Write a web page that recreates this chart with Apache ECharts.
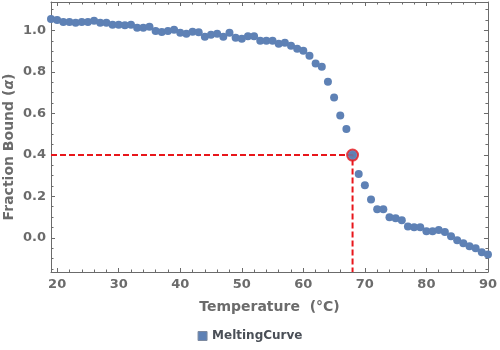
<!DOCTYPE html>
<html>
<head>
<meta charset="utf-8">
<script src="https://cdn.jsdelivr.net/npm/echarts@6/dist/echarts.min.js"></script>
<style>
  html, body { margin: 0; padding: 0; background: #fff; }
  #chart { width: 500px; height: 350px; }
</style>
</head>
<body>
<div id="chart"></div>
<script>
// Melting curve: fraction bound vs. temperature
const temperature = [19, 20, 21, 22, 23, 24, 25, 26, 27, 28, 29, 30, 31, 32, 33, 34, 35, 36,
  37, 38, 39, 40, 41, 42, 43, 44, 45, 46, 47, 48, 49, 50, 51, 52, 53, 54, 55, 56, 57, 58,
  59, 60, 61, 62, 63, 64, 65, 66, 67, 68, 69, 70, 71, 72, 73, 74, 75, 76, 77, 78, 79, 80,
  81, 82, 83, 84, 85, 86, 87, 88, 89, 90];
const fractionBound = [1.055, 1.050, 1.040, 1.040, 1.037, 1.040, 1.040, 1.047, 1.037, 1.037,
  1.027, 1.027, 1.025, 1.027, 1.013, 1.013, 1.018, 0.997, 0.992, 0.997, 1.003, 0.989, 0.984,
  0.994, 0.991, 0.970, 0.979, 0.984, 0.970, 0.989, 0.965, 0.960, 0.972, 0.972, 0.950, 0.950,
  0.950, 0.936, 0.941, 0.926, 0.912, 0.902, 0.878, 0.840, 0.825, 0.753, 0.676, 0.590, 0.524,
  0.399, 0.307, 0.253, 0.185, 0.137, 0.137, 0.099, 0.094, 0.084, 0.055, 0.051, 0.051, 0.031,
  0.031, 0.038, 0.028, 0.007, -0.012, -0.026, -0.041, -0.051, -0.070, -0.081];

// Melting temperature and the fraction bound there
const meltTemp = 68;
const meltFraction = 0.399;

// Axis ranges and ticks
const xRange = [19, 90];
const yRange = [-0.165, 1.137];
const xTicks = [20, 30, 40, 50, 60, 70, 80, 90];
const xMinorTicks = [20, 22, 24, 26, 28, 30, 32, 34, 36, 38, 40, 42, 44, 46, 48, 50, 52, 54,
  56, 58, 60, 62, 64, 66, 68, 70, 72, 74, 76, 78, 80, 82, 84, 86, 88, 90];
const yTicks = [0, 0.2, 0.4, 0.6, 0.8, 1.0];
const yMinorTicks = [-0.15, -0.1, -0.05, 0, 0.05, 0.1, 0.15, 0.2, 0.25, 0.3, 0.35, 0.4, 0.45,
  0.5, 0.55, 0.6, 0.65, 0.7, 0.75, 0.8, 0.85, 0.9, 0.95, 1.0, 1.05, 1.1];

const points = temperature.map((t, i) => [t, fractionBound[i]]);

const frameColor = '#6b6b6b';
const textColor = '#6b6b6b';
const fontFamily = '"DejaVu Sans", sans-serif';
const pointColor = '#5e81b5';
const guideColor = '#e8161b';

function frameAxis(position, range, major, minor, withLabels, extra) {
  const isX = position === 'bottom' || position === 'top';
  const axes = [];
  axes.push(Object.assign({
    type: 'value',
    position: position,
    min: range[0],
    max: range[1],
    axisLine: { show: true, onZero: false, lineStyle: { color: frameColor, width: 1 } },
    axisTick: { show: true, inside: true, length: 4, customValues: major,
      lineStyle: { color: frameColor, width: 1 } },
    axisLabel: withLabels ? {
      show: true, customValues: major, margin: isX ? 6 : 5,
      color: textColor, fontFamily: fontFamily, fontWeight: 'bold', fontSize: 13,
      formatter: v => isX ? String(v) : Number(v).toFixed(1)
    } : { show: false },
    splitLine: { show: false }
  }, extra || {}));
  axes.push({
    type: 'value',
    position: position,
    min: range[0],
    max: range[1],
    axisLine: { show: false, onZero: false },
    axisTick: { show: true, inside: true, length: 2.5, customValues: minor,
      lineStyle: { color: frameColor, width: 1 } },
    axisLabel: { show: false },
    splitLine: { show: false }
  });
  return axes;
}

const chart = echarts.init(document.getElementById('chart'), null, { renderer: 'canvas' });

const xAxes = [].concat(
  frameAxis('bottom', xRange, xTicks, xMinorTicks, true, {
    name: 'Temperature  (°C)',
    nameLocation: 'middle',
    nameGap: 28,
    nameTextStyle: { color: textColor, fontFamily: fontFamily, fontWeight: 'bold', fontSize: 14 }
  }),
  frameAxis('top', xRange, xTicks, xMinorTicks, false)
);
const yAxes = [].concat(
  frameAxis('left', yRange, yTicks, yMinorTicks, true),
  frameAxis('right', yRange, yTicks, yMinorTicks, false)
);

chart.setOption({
  animation: false,
  backgroundColor: '#ffffff',
  grid: { left: 51, right: 11, top: 2, bottom: 78, containLabel: false },
  xAxis: xAxes,
  yAxis: yAxes,
  legend: {
    data: [{ name: 'MeltingCurve', icon: 'rect' }],
    bottom: 3,
    left: 'center',
    itemWidth: 9,
    itemHeight: 9,
    itemGap: 6,
    itemStyle: { borderColor: '#7d8aa0', borderWidth: 1 },
    textStyle: { color: '#4a4f57', fontFamily: fontFamily, fontWeight: 'bold', fontSize: 12 }
  },
  graphic: [{
    type: 'text',
    x: 9,
    y: 147,
    rotation: Math.PI / 2,
    style: {
      text: '{n|Fraction Bound (}{a|α}{n|)}',
      align: 'center',
      verticalAlign: 'middle',
      rich: {
        n: { fill: textColor, fontFamily: fontFamily, fontWeight: 'bold', fontSize: 14 },
        a: { fill: textColor, fontFamily: fontFamily, fontWeight: 'bold', fontStyle: 'italic', fontSize: 14 }
      }
    }
  }],
  series: [
    {
      name: 'MeltingCurve',
      type: 'scatter',
      xAxisIndex: 0,
      yAxisIndex: 0,
      data: points,
      symbol: 'circle',
      symbolSize: 8,
      itemStyle: { color: pointColor, opacity: 1 },
      z: 3
    },
    {
      name: 'guide',
      type: 'line',
      xAxisIndex: 0,
      yAxisIndex: 0,
      data: [[xRange[0], meltFraction], [meltTemp, meltFraction], [meltTemp, yRange[0]]],
      symbol: 'none',
      lineStyle: { color: guideColor, width: 2, type: [6, 3] },
      silent: true,
      z: 4
    },
    {
      name: 'melt',
      type: 'scatter',
      xAxisIndex: 0,
      yAxisIndex: 0,
      data: [[meltTemp, meltFraction]],
      symbol: 'circle',
      symbolSize: 11,
      itemStyle: { color: pointColor, borderColor: guideColor, borderWidth: 2 },
      z: 5
    }
  ]
});
</script>
</body>
</html>
